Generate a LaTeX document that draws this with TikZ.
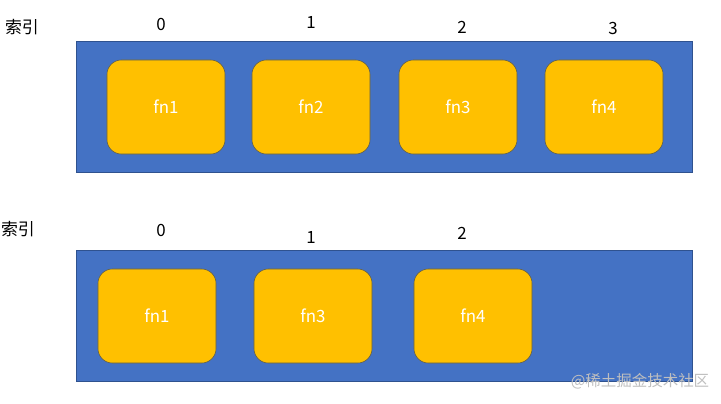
\documentclass[tikz,border=0pt]{standalone}
\usepackage{fontspec}
\setmainfont{Noto Sans CJK SC}
\newfontfamily\cjk{Noto Sans CJK SC}
\usepackage{xcolor}
\usepackage{tikz}
\usetikzlibrary{positioning,calc}

\definecolor{arrblue}{HTML}{4472C4}
\definecolor{arredge}{HTML}{2F528F}
\definecolor{fnyellow}{HTML}{FFC000}
\definecolor{fnedge}{HTML}{5A5A4A}

\tikzset{
    slot/.style={draw=fnedge, fill=fnyellow, rounded corners=0.36cm,
        minimum width=2.95cm, minimum height=2.35cm, text=white,
        font=\fontsize{12}{14}\selectfont},
    idx/.style={font=\fontsize{12}{14}\selectfont},
    arr/.style={draw=arredge, fill=arrblue}
}

\begin{document}
\begin{tikzpicture}[x=0.025cm, y=-0.025cm]
    \useasboundingbox (0,0) rectangle (721,403);

    % Original array
    \draw[arr] (76,41) rectangle (692,172);
    \node[idx] (labA) at (22,27) {索引};
    \node[idx] (iA0) at (161,24) {0};
    \node[idx] (iA1) at (311,22) {1};
    \node[idx] (iA2) at (462,27) {2};
    \node[idx] (iA3) at (613,28) {3};
    \node[slot] (a1) at (166,107) {fn1};
    \node[slot] (a2) at (311,107) {fn2};
    \node[slot] (a3) at (458,107) {fn3};
    \node[slot] (a4) at (604,107) {fn4};

    % After removing fn2
    \draw[arr] (76,250) rectangle (692,381);
    \node[idx] (labB) at (18,229) {索引};
    \node[idx] (iB0) at (161,230) {0};
    \node[idx] (iB1) at (311,237) {1};
    \node[idx] (iB2) at (462,233) {2};
    \node[slot] (b1) at (157,316) {fn1};
    \node[slot] (b2) at (313,316) {fn3};
    \node[slot] (b3) at (473,316) {fn4};

    % Watermark
    \node[text=black!25, font=\cjk\fontsize{11}{13}\selectfont] (mark) at (640,381) {@稀土掘金技术社区};
\end{tikzpicture}
\end{document}
